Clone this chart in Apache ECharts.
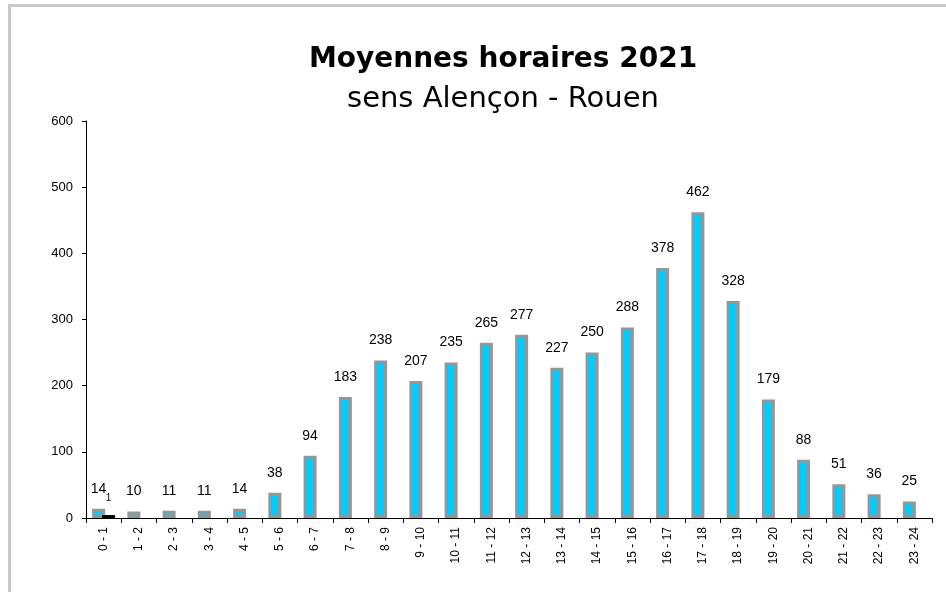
<!DOCTYPE html>
<html>
<head>
<meta charset="utf-8">
<script src="https://cdn.jsdelivr.net/npm/echarts@6/dist/echarts.min.js"></script>
<style>
  html, body { margin: 0; padding: 0; background: #fff; }
  #chart { width: 946px; height: 592px; }
</style>
</head>
<body>
<div id="chart"></div>
<script>
// hour slots
var hours = ['0 - 1', '1 - 2', '2 - 3', '3 - 4', '4 - 5', '5 - 6', '6 - 7', '7 - 8',
    '8 - 9', '9 - 10', '10 - 11', '11 - 12', '12 - 13', '13 - 14', '14 - 15', '15 - 16',
    '16 - 17', '17 - 18', '18 - 19', '19 - 20', '20 - 21', '21 - 22', '22 - 23', '23 - 24'];
// average vehicles per hour
var moyennes = [14, 10, 11, 11, 14, 38, 94, 183, 238, 207, 235, 265, 277, 227, 250, 288,
    378, 462, 328, 179, 88, 51, 36, 25];
// second (tiny) series, only the first slot has a value
var autres = [1, null, null, null, null, null, null, null, null, null, null, null,
    null, null, null, null, null, null, null, null, null, null, null, null];
var yTicks = [0, 100, 200, 300, 400, 500, 600];

var chart = echarts.init(document.getElementById('chart'));

var labelFont = 'Liberation Sans, Arial, sans-serif';
var titleFont = '"Comic Sans MS", "DejaVu Sans", sans-serif';

var option = {
    animation: false,
    graphic: [
        // page frame, top and left edges
        { type: 'rect', shape: { x: 8, y: 4, width: 938, height: 3 }, style: { fill: '#c8c8c8' } },
        { type: 'rect', shape: { x: 8, y: 4, width: 3, height: 588 }, style: { fill: '#c8c8c8' } }
    ],
    title: [{
        text: 'Moyennes horaires 2021',
        left: 498,
        top: 41,
        textAlign: 'center',
        textStyle: { fontFamily: titleFont, fontWeight: 'bold', fontSize: 28, color: '#000' }
    }, {
        text: 'sens Alençon - Rouen',
        left: 498,
        top: 80,
        textAlign: 'center',
        textStyle: { fontFamily: titleFont, fontWeight: 'normal', fontSize: 29, color: '#000' }
    }],
    grid: { left: 86, right: 14, top: 121, bottom: 74 },
    xAxis: {
        type: 'category',
        data: hours,
        axisLine: { lineStyle: { color: '#000', width: 1 } },
        axisTick: { show: true, length: 5, lineStyle: { color: '#000' } },
        axisLabel: {
            rotate: 90,
            margin: 9,
            fontFamily: labelFont,
            fontSize: 12,
            color: '#000'
        }
    },
    yAxis: {
        type: 'value',
        min: yTicks[0],
        max: yTicks[yTicks.length - 1],
        interval: 100,
        axisLine: { show: true, lineStyle: { color: '#000', width: 1 } },
        axisTick: { show: true, length: 4, lineStyle: { color: '#000' } },
        splitLine: { show: false },
        axisLabel: {
            margin: 13,
            fontFamily: labelFont,
            fontSize: 13,
            color: '#000'
        }
    },
    series: [{
        name: 'moyenne',
        type: 'bar',
        data: moyennes,
        barWidth: 13,
        barGap: '-23%',
        itemStyle: { color: '#00ccff', borderColor: '#969696', borderWidth: 3 },
        label: {
            show: true,
            position: 'top',
            distance: 13,
            fontFamily: labelFont,
            fontSize: 14,
            color: '#000'
        }
    }, {
        name: 'autre',
        type: 'bar',
        data: autres,
        barWidth: 13,
        barMinHeight: 3,
        itemStyle: { color: '#000', borderColor: '#000', borderWidth: 1 },
        label: {
            show: true,
            position: 'top',
            distance: 12,
            fontFamily: labelFont,
            fontSize: 10,
            color: '#000'
        }
    }]
};

chart.setOption(option);
</script>
</body>
</html>
